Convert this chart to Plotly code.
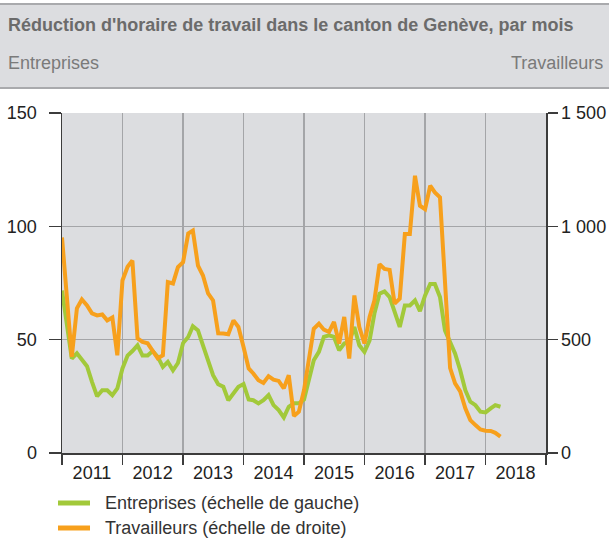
import pandas as pd
import plotly.graph_objects as go

start_month = "2011-01-01"
n_months = 88
months = pd.date_range(start_month, periods=n_months, freq="MS")

entreprises = [71.7, 57, 41.7, 44, 41, 38.3, 31.4, 25, 27.7, 27.7, 25.5, 28.5,
               37.3, 43, 45, 47.5, 43, 43, 45, 42.4, 38, 40.2, 36.5, 39.7,
               48.5, 51.2, 55.9, 54.1, 47.5, 41.2, 34.3, 30.3, 29.2, 23.3, 26.5, 29.2,
               30.4, 23.6, 23.3, 21.9, 23.3, 25.5, 21.1, 18.9, 15.7, 20.4, 21.9, 21.9,
               23.6, 32.1, 40.9, 44.6, 51.2, 51.9, 51.2, 45.3, 48.3, 49, 55.6, 47.5,
               44.6, 49.7, 61.5, 70.3, 71.3, 68.8, 62.9, 55.6, 65.1, 65.1, 67.3, 62.6,
               69.5, 74.6, 74.6, 68.8, 54.1, 49, 43.9, 36.5, 27.7, 22.6, 21.1, 18.2,
               17.9, 19.7, 21.1, 20.4]

travailleurs = [951, 690, 424, 638, 677, 651, 616, 607, 611, 585, 598, 431,
                761, 822, 849, 506, 490, 484, 453, 418, 431, 754, 748, 820,
                842, 968, 981, 827, 783, 704, 673, 528, 527, 524, 585, 556,
                468, 373, 351, 321, 309, 339, 324, 318, 285, 343, 163, 182,
                277, 409, 548, 570, 544, 534, 578, 483, 600, 417, 695, 556,
                483, 600, 673, 833, 812, 808, 659, 681, 966, 966, 1223, 1091,
                1076, 1179, 1150, 1128, 750, 375, 307, 272, 197, 145, 123, 104,
                98, 97, 89, 72]

left_ticks = [0, 50, 100, 150]
right_ticks = [0, 500, 1000, 1500]

title_text = "Réduction d'horaire de travail dans le canton de Genève, par mois"
left_label = "Entreprises"
right_label = "Travailleurs"
name_ent = "Entreprises (échelle de gauche)"
name_trav = "Travailleurs (échelle de droite)"

GREEN = "#a2c93a"
ORANGE = "#f7a01c"
BG = "#dcdde0"
GRID = "#a4a5a8"
AXIS = "#3c3c3c"
FONT = "Liberation Sans, Arial, sans-serif"
FS = 18

W, H = 609, 539
L, R, T, B = 62, 63, 113, 86
pw, ph = W - L - R, H - T - B


def px(x):
    return (x - L) / pw


def py(y):
    return (H - B - y) / ph


fig = go.Figure()
fig.add_trace(go.Scatter(x=months, y=entreprises, mode="lines", name=name_ent,
                         line=dict(color=GREEN, width=4), yaxis="y",
                         showlegend=False, hoverinfo="skip"))
fig.add_trace(go.Scatter(x=months, y=travailleurs, mode="lines", name=name_trav,
                         line=dict(color=ORANGE, width=4), yaxis="y2",
                         showlegend=False, hoverinfo="skip"))

fig.update_layout(
    width=W, height=H,
    margin=dict(l=L, r=R, t=T, b=B, pad=0),
    autosize=False,
    paper_bgcolor="white",
    plot_bgcolor=BG,
    separators=". ",
    font=dict(family=FONT, size=FS, color="#222222"),
    showlegend=False,
    xaxis=dict(type="date", range=["2011-01-01", "2019-01-01"],
               automargin=False,
               # labels centred on each year
               tick0="2011-07-01", dtick="M12", tickformat="%Y",
               ticklabelmode="instant", ticks="outside", ticklen=3,
               tickcolor="rgba(0,0,0,0)", showgrid=False,
               # year boundaries: tick marks and grid lines
               minor=dict(tick0="2011-01-01", dtick="M12", ticks="outside",
                          ticklen=10, tickcolor=AXIS, tickwidth=1.5,
                          showgrid=True, gridcolor=GRID, gridwidth=1.5),
               showline=True, linecolor=AXIS, linewidth=1.5,
               tickfont=dict(size=FS, color="#222222"), fixedrange=True),
    yaxis=dict(range=[0, 150], tickvals=left_ticks, automargin=False,
               ticks="outside", ticklen=12, tickcolor=AXIS, tickwidth=1.5,
               ticklabelstandoff=8,
               showgrid=True, gridcolor=GRID, gridwidth=1.5, zeroline=False,
               showline=True, linecolor=AXIS, linewidth=1.5,
               tickfont=dict(size=FS, color="#222222"), fixedrange=True),
    yaxis2=dict(range=[0, 1500], tickvals=right_ticks, overlaying="y",
                side="right", tickformat=",d", automargin=False,
                ticks="outside", ticklen=10, tickcolor=AXIS, tickwidth=1.5,
                showgrid=False, zeroline=False,
                showline=True, linecolor=AXIS, linewidth=1.5,
                tickfont=dict(size=FS, color="#222222"), fixedrange=True),
)

# header band
fig.add_shape(type="rect", xref="paper", yref="paper",
              x0=px(0), x1=px(W), y0=py(88), y1=py(4),
              fillcolor=BG, line=dict(width=0), layer="below")
for yy in (4, 88):
    fig.add_shape(type="line", xref="paper", yref="paper",
                  x0=px(0), x1=px(W), y0=py(yy), y1=py(yy),
                  line=dict(color="#a9aaad", width=2))

fig.add_annotation(text="<b>" + title_text + "</b>", xref="paper", yref="paper",
                   x=px(6), y=py(25), xanchor="left", yanchor="middle",
                   showarrow=False, font=dict(size=FS, color="#6b6b6b"))
fig.add_annotation(text=left_label, xref="paper", yref="paper",
                   x=px(6), y=py(63), xanchor="left", yanchor="middle",
                   showarrow=False, font=dict(size=FS, color="#7a7a7a"))
fig.add_annotation(text=right_label, xref="paper", yref="paper",
                   x=px(605), y=py(63), xanchor="right", yanchor="middle",
                   showarrow=False, font=dict(size=FS, color="#7a7a7a"))

# legend (drawn manually to keep the plot area fixed)
legend_items = [(name_ent, GREEN, 503), (name_trav, ORANGE, 528)]
for label, color, yy in legend_items:
    fig.add_shape(type="line", xref="paper", yref="paper",
                  x0=px(58), x1=px(90), y0=py(yy), y1=py(yy),
                  line=dict(color=color, width=5))
    fig.add_annotation(text=label, xref="paper", yref="paper",
                       x=px(103), y=py(yy), xanchor="left", yanchor="middle",
                       showarrow=False, font=dict(size=FS, color="#333333"))

fig.write_html(
    "out.html",
    config={"displayModeBar": False, "staticPlot": True},
    post_script="document.body.style.margin='0';"
                "document.documentElement.style.overflow='hidden';",
)
